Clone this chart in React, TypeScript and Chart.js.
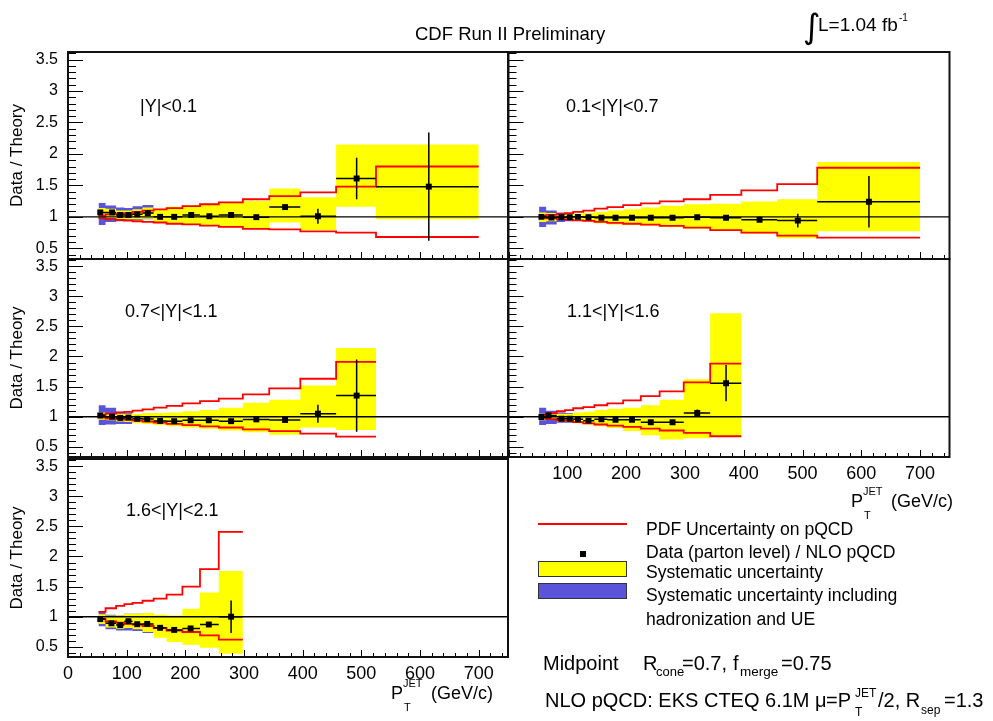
import React, { useEffect, useRef } from 'react';
import { Chart, registerables } from 'chart.js';

Chart.register(...registerables);

const FONT = "'Liberation Sans', Arial, Helvetica, sans-serif";

// ---------- axes ----------
const X_MIN = 0;
const X_MAX = 750;
const Y_MIN = 0.33;
const Y_MAX = 3.62;
const X_STEP = 100;
const Y_STEP = 0.5;

// common pT bin edges (GeV/c)
const binEdges = [52, 64, 82, 96, 110, 127, 146, 168, 195, 225, 257, 298, 343, 396, 457, 525, 700];

// ---------- panel 1 : |Y|<0.1 ----------
const p1X = [55, 75, 89, 103, 118, 136, 157, 181, 210, 241, 278, 321, 370, 426, 492, 615];
const p1Y = [1.07, 1.07, 1.03, 1.03, 1.04, 1.06, 1.0, 1.0, 1.03, 1.01, 1.03, 0.995, 1.155, 1.01, 1.61, 1.48];
const p1Err = [0.01, 0.01, 0.01, 0.01, 0.01, 0.01, 0.01, 0.01, 0.01, 0.015, 0.02, 0.025, 0.04, 0.12, 0.33, 0.86];
const p1SysHi = [1.14, 1.13, 1.1, 1.1, 1.12, 1.15, 1.13, 1.16, 1.18, 1.2, 1.23, 1.25, 1.45, 1.31, 2.15, 2.15];
const p1SysLo = [0.97, 0.98, 0.96, 0.96, 0.96, 0.97, 0.91, 0.89, 0.88, 0.86, 0.84, 0.82, 0.91, 0.79, 1.16, 0.96];
const p1BlueHi = [1.22, 1.18, 1.15, 1.14, 1.17, 1.19];
const p1BlueLo = [0.87, 0.92, 0.93, 0.94, 0.95, 0.96];
const p1PdfHi = [1.02, 1.04, 1.05, 1.06, 1.08, 1.1, 1.12, 1.14, 1.17, 1.2, 1.23, 1.28, 1.33, 1.39, 1.48, 1.8];
const p1PdfLo = [0.98, 0.96, 0.95, 0.94, 0.93, 0.92, 0.91, 0.89, 0.88, 0.86, 0.84, 0.81, 0.8, 0.77, 0.75, 0.68];

// ---------- panel 2 : 0.1<|Y|<0.7 ----------
const p2X = [56, 73, 90, 104, 118, 136, 158, 182, 210, 242, 279, 321, 370, 427, 492, 613];
const p2Y = [1.0, 0.99, 0.995, 0.995, 1.0, 0.995, 0.985, 0.985, 0.985, 0.985, 0.985, 0.995, 0.985, 0.955, 0.94, 1.24];
const p2Err = [0.01, 0.01, 0.01, 0.01, 0.01, 0.01, 0.01, 0.01, 0.01, 0.01, 0.01, 0.015, 0.02, 0.03, 0.11, 0.41];
const p2SysHi = [1.07, 1.06, 1.04, 1.04, 1.05, 1.06, 1.08, 1.1, 1.12, 1.15, 1.175, 1.2, 1.21, 1.245, 1.28, 1.87];
const p2SysLo = [0.92, 0.93, 0.95, 0.95, 0.94, 0.93, 0.9, 0.88, 0.87, 0.86, 0.84, 0.81, 0.78, 0.73, 0.66, 0.77];
const p2BlueHi = [1.16, 1.1, 1.07, 1.06];
const p2BlueLo = [0.84, 0.88, 0.92, 0.93];
const p2PdfHi = [1.015, 1.03, 1.045, 1.06, 1.08, 1.1, 1.13, 1.155, 1.185, 1.215, 1.245, 1.28, 1.35, 1.42, 1.52, 1.78];
const p2PdfLo = [0.98, 0.975, 0.965, 0.955, 0.945, 0.935, 0.92, 0.905, 0.89, 0.875, 0.855, 0.83, 0.79, 0.75, 0.7, 0.67];

// ---------- panel 3 : 0.7<|Y|<1.1 ----------
const p3X = [55, 75, 89, 103, 118, 135, 157, 181, 209, 240, 278, 321, 370, 426, 492];
const p3Y = [1.02, 1.0, 0.98, 0.985, 0.965, 0.96, 0.93, 0.925, 0.94, 0.94, 0.925, 0.955, 0.945, 1.05, 1.35];
const p3Err = [0.01, 0.01, 0.01, 0.01, 0.01, 0.01, 0.01, 0.01, 0.01, 0.01, 0.01, 0.015, 0.02, 0.15, 0.6];
const p3SysHi = [1.07, 1.06, 1.05, 1.05, 1.05, 1.06, 1.06, 1.07, 1.09, 1.11, 1.15, 1.23, 1.28, 1.52, 2.14];
const p3SysLo = [0.95, 0.94, 0.92, 0.91, 0.89, 0.88, 0.86, 0.84, 0.82, 0.8, 0.77, 0.74, 0.7, 0.82, 0.78];
const p3BlueHi = [1.19, 1.15, 1.08, 1.07];
const p3BlueLo = [0.86, 0.87, 0.88, 0.88];
const p3PdfHi = [1.03, 1.05, 1.07, 1.08, 1.1, 1.12, 1.15, 1.18, 1.22, 1.26, 1.3, 1.37, 1.47, 1.63, 1.91];
const p3PdfLo = [0.99, 0.97, 0.96, 0.95, 0.935, 0.92, 0.9, 0.88, 0.86, 0.84, 0.82, 0.79, 0.76, 0.72, 0.67];

// ---------- panel 4 : 1.1<|Y|<1.6 ----------
const p4X = [56, 68, 90, 104, 118, 136, 158, 182, 210, 242, 279, 321, 370];
const p4Y = [0.995, 1.02, 0.967, 0.967, 0.956, 0.934, 0.956, 0.95, 0.95, 0.906, 0.906, 1.06, 1.557];
const p4Err = [0.01, 0.01, 0.01, 0.01, 0.01, 0.01, 0.01, 0.01, 0.01, 0.015, 0.02, 0.06, 0.3];
const p4SysHi = [1.05, 1.06, 1.05, 1.05, 1.07, 1.08, 1.11, 1.13, 1.15, 1.19, 1.28, 1.62, 2.72];
const p4SysLo = [0.94, 0.95, 0.92, 0.91, 0.89, 0.87, 0.84, 0.81, 0.76, 0.69, 0.62, 0.64, 0.675];
const p4BlueHi = [1.15, 1.1, 1.07, 1.06];
const p4BlueLo = [0.86, 0.88, 0.9, 0.9];
const p4PdfHi = [1.03, 1.06, 1.09, 1.11, 1.14, 1.16, 1.19, 1.22, 1.27, 1.34, 1.42, 1.57, 1.88];
const p4PdfLo = [0.98, 0.96, 0.94, 0.93, 0.91, 0.89, 0.87, 0.85, 0.83, 0.8, 0.77, 0.73, 0.675];

// ---------- panel 5 : 1.6<|Y|<2.1 ----------
const p5X = [55, 74, 89, 103, 118, 135, 157, 181, 209, 240, 278];
const p5Y = [0.96, 0.89, 0.86, 0.925, 0.875, 0.88, 0.815, 0.78, 0.805, 0.87, 1.0];
const p5Err = [0.01, 0.01, 0.01, 0.01, 0.01, 0.01, 0.01, 0.01, 0.02, 0.04, 0.27];
const p5SysHi = [1.04, 1.02, 1.02, 1.05, 1.05, 1.06, 1.03, 1.02, 1.13, 1.4, 1.76];
const p5SysLo = [0.88, 0.82, 0.8, 0.81, 0.79, 0.745, 0.65, 0.58, 0.535, 0.485, 0.385];
const p5BlueHi = [1.09, 1.03, 1.02, 1.05, 1.05, 1.06];
const p5BlueLo = [0.84, 0.79, 0.77, 0.77, 0.76, 0.73];
const p5PdfHi = [1.08, 1.14, 1.18, 1.21, 1.23, 1.265, 1.3, 1.365, 1.5, 1.79, 2.41];
const p5PdfLo = [0.965, 0.92, 0.9, 0.88, 0.87, 0.845, 0.81, 0.77, 0.745, 0.69, 0.62];

const panelLabels = ['|Y|<0.1', '0.1<|Y|<0.7', '0.7<|Y|<1.1', '1.1<|Y|<1.6', '1.6<|Y|<2.1'];

const legendLabels = [
  'PDF Uncertainty on pQCD',
  'Data (parton level) / NLO pQCD',
  'Systematic uncertainty',
  'Systematic uncertainty including',
  'hadronization and UE',
];

const panels = [
  { x: p1X, y: p1Y, err: p1Err, sysHi: p1SysHi, sysLo: p1SysLo, blueHi: p1BlueHi, blueLo: p1BlueLo, pdfHi: p1PdfHi, pdfLo: p1PdfLo },
  { x: p2X, y: p2Y, err: p2Err, sysHi: p2SysHi, sysLo: p2SysLo, blueHi: p2BlueHi, blueLo: p2BlueLo, pdfHi: p2PdfHi, pdfLo: p2PdfLo },
  { x: p3X, y: p3Y, err: p3Err, sysHi: p3SysHi, sysLo: p3SysLo, blueHi: p3BlueHi, blueLo: p3BlueLo, pdfHi: p3PdfHi, pdfLo: p3PdfLo },
  { x: p4X, y: p4Y, err: p4Err, sysHi: p4SysHi, sysLo: p4SysLo, blueHi: p4BlueHi, blueLo: p4BlueLo, pdfHi: p4PdfHi, pdfLo: p4PdfLo },
  { x: p5X, y: p5Y, err: p5Err, sysHi: p5SysHi, sysLo: p5SysLo, blueHi: p5BlueHi, blueLo: p5BlueLo, pdfHi: p5PdfHi, pdfLo: p5PdfLo },
];

// ---------- layout (page pixels) ----------
const W = 993;
const H = 721;
const Y_AXIS_W = 68;
const X_AXIS_H = 40;
const boxes = [
  { left: 68, top: 52, right: 508, bottom: 259, yLabels: true, xLabels: false, skipZero: false },
  { left: 508.5, top: 52, right: 949.5, bottom: 259, yLabels: false, xLabels: false, skipZero: false },
  { left: 68, top: 259, right: 508, bottom: 457, yLabels: true, xLabels: false, skipZero: false },
  { left: 508.5, top: 259, right: 949.5, bottom: 457, yLabels: false, xLabels: true, skipZero: true },
  { left: 68, top: 459, right: 508, bottom: 657, yLabels: true, xLabels: true, skipZero: false },
];
const labelPos = [
  { x: 140, b: 112 },
  { x: 566, b: 112 },
  { x: 125, b: 317 },
  { x: 567, b: 317 },
  { x: 126, b: 516 },
];

const YELLOW = '#ffff00';
const BLUE = '#5954d9';
const RED = '#ff0000';

// ROOT-like frame with inward major/minor ticks
const rootFrame = {
  id: 'rootFrame',
  afterDraw(chart: any) {
    const { ctx, chartArea: a, scales } = chart;
    const xs = scales.x;
    const ys = scales.y;
    ctx.save();
    ctx.strokeStyle = '#000';
    ctx.lineWidth = 1;
    ctx.beginPath();
    for (let k = Math.ceil(ys.min * 10); k <= Math.floor(ys.max * 10); k++) {
      const py = Math.round(ys.getPixelForValue(k / 10)) + 0.5;
      const len = k % 5 === 0 ? 15 : 8;
      ctx.moveTo(a.left, py);
      ctx.lineTo(a.left + len, py);
    }
    for (let k = 0; k * 20 <= xs.max; k++) {
      const v = k * 20;
      const px = Math.round(xs.getPixelForValue(v)) + 0.5;
      const len = v % 100 === 0 ? 7 : 4;
      ctx.moveTo(px, a.bottom);
      ctx.lineTo(px, a.bottom - len);
    }
    ctx.stroke();
    ctx.lineWidth = 2;
    ctx.strokeStyle = '#111';
    ctx.strokeRect(a.left, a.top, a.right - a.left, a.bottom - a.top);
    ctx.restore();
  },
};

function buildConfig(p: any, box: any) {
  const n = p.y.length;
  const e = binEdges;
  const step = (vals: number[]) => {
    const pts = vals.map((v, i) => ({ x: e[i], y: v }));
    pts.push({ x: e[vals.length], y: vals[vals.length - 1] });
    return pts;
  };
  const hBars: any[] = [];
  const vBars: any[] = [];
  for (let i = 0; i < n; i++) {
    hBars.push({ x: e[i], y: p.y[i] }, { x: e[i + 1], y: p.y[i] }, { x: e[i + 1], y: null });
    vBars.push({ x: p.x[i], y: p.y[i] - p.err[i] }, { x: p.x[i], y: p.y[i] + p.err[i] }, { x: p.x[i], y: null });
  }
  const base = { pointRadius: 0, pointHoverRadius: 0, tension: 0 };
  const band = (data: any[], color: string, fill: any, order: number) => ({
    ...base,
    data,
    stepped: true,
    borderWidth: 0,
    borderColor: 'rgba(0,0,0,0)',
    backgroundColor: color,
    fill,
    order,
  });
  const datasets: any[] = [
    band(step(p.blueHi), BLUE, '+1', 10),
    band(step(p.blueLo), BLUE, false, 10),
    band(step(p.sysHi), YELLOW, '+1', 9),
    band(step(p.sysLo), YELLOW, false, 9),
    { ...base, data: step(p.pdfHi), stepped: true, borderColor: RED, borderWidth: 1.8, fill: false, order: 8 },
    { ...base, data: step(p.pdfLo), stepped: true, borderColor: RED, borderWidth: 1.8, fill: false, order: 8 },
    { ...base, data: [{ x: X_MIN, y: 1 }, { x: X_MAX, y: 1 }], borderColor: '#000', borderWidth: 1.4, fill: false, order: 7 },
    { ...base, data: hBars, borderColor: '#000', borderWidth: 1.5, fill: false, spanGaps: false, order: 6 },
    { ...base, data: vBars, borderColor: '#000', borderWidth: 1.5, fill: false, spanGaps: false, order: 5 },
    {
      data: p.x.map((x: number, i: number) => ({ x, y: p.y[i] })),
      showLine: false,
      pointStyle: 'rect',
      pointRadius: 4.2,
      pointHoverRadius: 4.2,
      pointBorderWidth: 0,
      pointBackgroundColor: '#000',
      backgroundColor: '#000',
      borderColor: '#000',
      order: 4,
    },
  ];
  const tickFont = { family: FONT, size: 18 };
  return {
    type: 'line',
    data: { datasets },
    plugins: [rootFrame],
    options: {
      responsive: false,
      maintainAspectRatio: false,
      animation: false,
      events: [],
      layout: {
        padding: {
          left: box.yLabels ? box.left - Y_AXIS_W : box.left,
          top: box.top,
          right: W - box.right,
          bottom: H - box.bottom - (box.xLabels ? X_AXIS_H : 0),
        },
      },
      plugins: { legend: { display: false }, tooltip: { enabled: false }, title: { display: false } },
      scales: {
        x: {
          type: 'linear',
          min: X_MIN,
          max: X_MAX,
          display: box.xLabels,
          grid: { display: false, drawTicks: false },
          border: { display: false },
          ticks: {
            stepSize: X_STEP,
            includeBounds: false,
            autoSkip: false,
            maxRotation: 0,
            minRotation: 0,
            padding: 6.5,
            color: '#000',
            font: tickFont,
            callback: (v: any) => String(v),
          },
          afterBuildTicks: (s: any) => {
            if (box.skipZero) s.ticks = s.ticks.filter((t: any) => t.value !== 0);
          },
          afterFit: (s: any) => {
            s.height = box.xLabels ? X_AXIS_H : 0;
          },
        },
        y: {
          type: 'linear',
          min: Y_MIN,
          max: Y_MAX,
          display: box.yLabels,
          grid: { display: false, drawTicks: false },
          border: { display: false },
          ticks: {
            stepSize: Y_STEP,
            includeBounds: false,
            autoSkip: false,
            padding: 10,
            color: '#000',
            font: { family: FONT, size: 16 },
            callback: (v: any) => String(v),
          },
          title: {
            display: true,
            text: 'Data / Theory',
            color: '#000',
            font: { family: FONT, size: 17 },
            padding: { top: 7, bottom: 0 },
          },
          afterFit: (s: any) => {
            s.width = box.yLabels ? Y_AXIS_W : 0;
          },
        },
      },
    },
  };
}

const T = ({ x, b, s, children, style }: any) => (
  <span
    style={{
      position: 'absolute',
      left: x,
      top: b - 0.8465 * s,
      fontSize: s,
      lineHeight: `${s}px`,
      fontFamily: FONT,
      whiteSpace: 'nowrap',
      color: '#000',
      ...style,
    }}
  >
    {children}
  </span>
);

const PtTitle = ({ x, b }: any) => (
  <>
    <T x={x} b={b} s={18}>P</T>
    <T x={x + 12} b={b - 12} s={11}>JET</T>
    <T x={x + 13} b={b + 12} s={11}>T</T>
    <T x={x + 40} b={b} s={18}>(GeV/c)</T>
  </>
);

export default function App() {
  const refs = useRef<(HTMLCanvasElement | null)[]>([]);
  useEffect(() => {
    const charts = panels.map((p, i) => new Chart(refs.current[i] as HTMLCanvasElement, buildConfig(p, boxes[i]) as any));
    return () => charts.forEach((c) => c.destroy());
  }, []);

  return (
    <div style={{ position: 'absolute', left: 0, top: 0, width: W, height: H, background: '#fff', overflow: 'hidden' }}>
      {panels.map((_, i) => (
        <canvas
          key={i}
          ref={(el) => {
            refs.current[i] = el;
          }}
          width={W}
          height={H}
          style={{ position: 'absolute', left: 0, top: 0, width: W, height: H }}
        />
      ))}
      {panelLabels.map((t, i) => (
        <T key={t} x={labelPos[i].x} b={labelPos[i].b} s={18}>
          {t}
        </T>
      ))}

      <T x={415} b={41} s={18.5}>CDF Run II Preliminary</T>
      <T x={803} b={38} s={34} style={{ fontFamily: "'DejaVu Sans', sans-serif" }}>∫</T>
      <T x={818} b={31} s={19}>L=1.04 fb</T>
      <T x={899} b={21} s={10}>-1</T>

      <PtTitle x={851} b={507} />
      <PtTitle x={391} b={699} />

      <div style={{ position: 'absolute', left: 538, top: 523, width: 89, height: 2, background: RED }} />
      <div style={{ position: 'absolute', left: 580, top: 551, width: 6, height: 6, background: '#000' }} />
      <div style={{ position: 'absolute', left: 538, top: 561, width: 89, height: 16, background: YELLOW, border: '1.5px solid #333', boxSizing: 'border-box' }} />
      <div style={{ position: 'absolute', left: 538, top: 583, width: 89, height: 16, background: BLUE, border: '1.5px solid #333', boxSizing: 'border-box' }} />
      <T x={646} b={536} s={17.6}>{legendLabels[0]}</T>
      <T x={646} b={559} s={17.6}>{legendLabels[1]}</T>
      <T x={646} b={579} s={17.6}>{legendLabels[2]}</T>
      <T x={646} b={602} s={17.6}>{legendLabels[3]}</T>
      <T x={646} b={626} s={17.6}>{legendLabels[4]}</T>

      <T x={543} b={670} s={20}>Midpoint</T>
      <T x={643} b={670} s={20}>R</T>
      <T x={656} b={676} s={13}>cone</T>
      <T x={682} b={670} s={20}>=0.7,</T>
      <T x={733} b={670} s={20}>f</T>
      <T x={740} b={676} s={13.5}>merge</T>
      <T x={781} b={670} s={20}>=0.75</T>

      <T x={545} b={707} s={20}>NLO pQCD: EKS CTEQ 6.1M</T>
      <T x={815} b={707} s={20}>μ</T>
      <T x={826} b={707} s={20}>=P</T>
      <T x={855} b={697} s={12}>JET</T>
      <T x={855} b={716} s={12}>T</T>
      <T x={878} b={707} s={20}>/2, R</T>
      <T x={921} b={714} s={12}>sep</T>
      <T x={944} b={707} s={20}>=1.3</T>
    </div>
  );
}
